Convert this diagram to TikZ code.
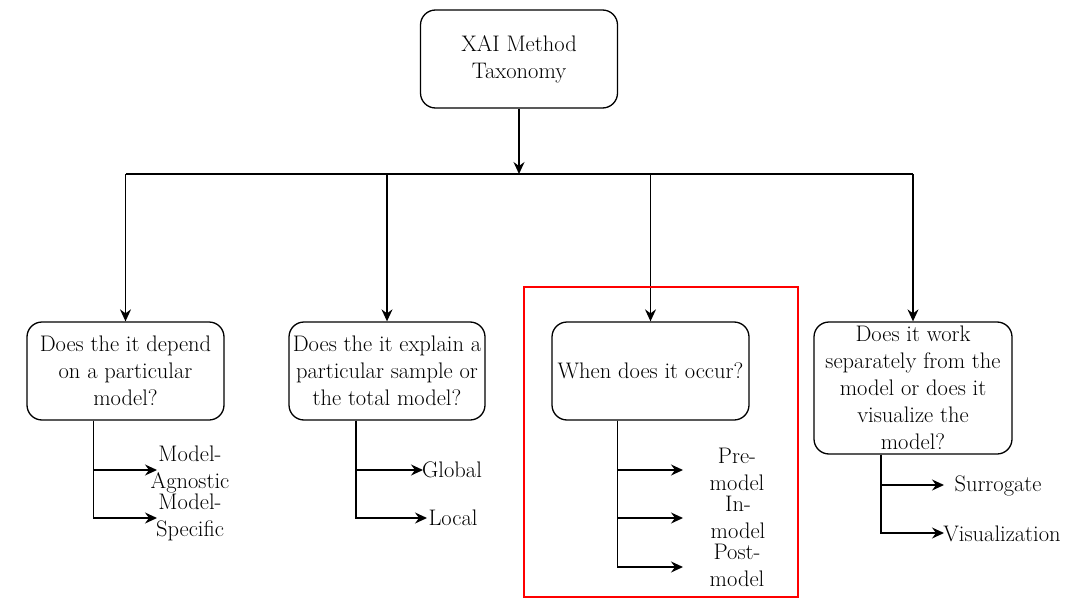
\documentclass[tikz,border=0pt]{standalone}
\usetikzlibrary{arrows.meta}
\begin{document}
\begin{tikzpicture}[x=1pt,y=-1pt,
  every node/.style={font=\rmfamily\fontsize{22.5}{27}\selectfont, inner sep=0pt},
  qbox/.style={draw, line width=1.3pt, rounded corners=15pt, align=center},
  leaf/.style={align=center},
  link/.style={line width=1.4pt},
  arr/.style={link, -{Stealth[length=12pt,width=11pt,inset=4pt]}}]
\useasboundingbox (0,0) rectangle (1081,599);

% root and the four questions
\node[qbox, minimum width=197pt, minimum height=98pt] (root) at (519,59) {XAI Method\\Taxonomy};
\node[qbox, minimum width=197pt, minimum height=98pt] (q1) at (125.5,371) {Does the it depend\\on a particular\\model?};
\node[qbox, minimum width=196pt, minimum height=98pt] (q2) at (387,371) {Does the it explain a\\particular sample or\\the total model?};
\node[qbox, minimum width=197pt, minimum height=98pt] (q3) at (650.5,371) {When does it occur?};
\node[qbox, minimum width=198pt, minimum height=132pt] (q4) at (913,388) {Does it work\\separately from the\\model or does it\\visualize the\\model?};

% tree bus
\coordinate (bus) at (519,174);
\draw[arr] (root.south) -- (bus);
\draw[link] (q1.north |- bus) -- (q4.north |- bus);
\foreach \q in {q1,q2,q3,q4}
  \draw[arr] (\q.north |- bus) -- (\q.north);

% leaf labels
\node[leaf] (l1a) at (190,469) {Model-\\Agnostic};
\node[leaf] (l1b) at (190,517) {Model-\\Specific};
\node[leaf] (l2a) at (452,470) {Global};
\node[leaf] (l2b) at (453,518) {Local};
\node[leaf] (l3a) at (737,469) {Pre-\\model};
\node[leaf] (l3b) at (738,517) {In-\\model};
\node[leaf] (l3c) at (737,565) {Post-\\model};
\node[leaf] (l4a) at (998,486) {Surrogate};
\node[leaf] (l4b) at (1002,534) {Visualization};

% arrow ends for the branches
\coordinate (e1a) at (157,470);
\coordinate (e1b) at (157,518);
\coordinate (e2a) at (423,470);
\coordinate (e2b) at (427,518);
\coordinate (e3a) at (683,470);
\coordinate (e3b) at (683,518);
\coordinate (e3c) at (683,567);
\coordinate (e4a) at (944,485);
\coordinate (e4b) at (944,533);

% branches
\draw[arr] ([xshift=-32pt]q1.south) |- (e1a);
\draw[arr] ([xshift=-32pt]q1.south) |- (e1b);
\draw[arr] ([xshift=-31pt]q2.south) |- (e2a);
\draw[arr] ([xshift=-31pt]q2.south) |- (e2b);
\draw[arr] ([xshift=-33pt]q3.south) |- (e3a);
\draw[arr] ([xshift=-33pt]q3.south) |- (e3b);
\draw[arr] ([xshift=-33pt]q3.south) |- (e3c);
\draw[arr] ([xshift=-32pt]q4.south) |- (e4a);
\draw[arr] ([xshift=-32pt]q4.south) |- (e4b);

% highlight frame
\draw[red, line width=2pt] (524,287) rectangle (798,597);
\end{tikzpicture}
\end{document}
